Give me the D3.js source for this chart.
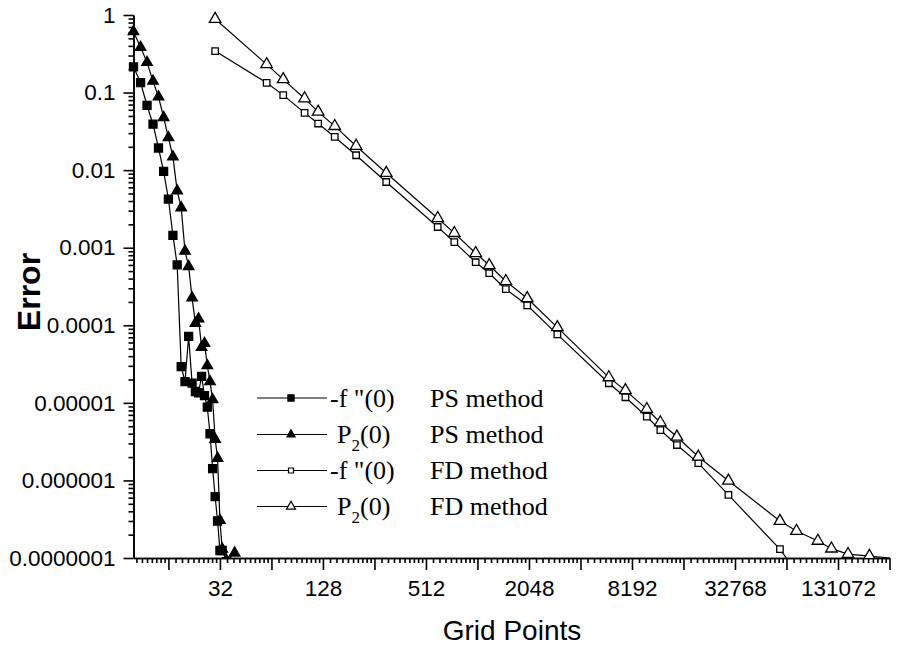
<!DOCTYPE html>
<html lang="en">
<head>
    <meta charset="UTF-8">
    <title>Error vs grid points</title>
    <script src="https://d3js.org/d3.v7.min.js"></script>
    <style>
        body { margin: 0; background: #fff; }
        #chart text { fill: #000; }
        .axis path, .axis line { stroke: #000; stroke-width: 1.6; }
        .axis text { font-family: "Liberation Sans", Arial, sans-serif; font-size: 22.5px; }
        .legend text { font-family: "Liberation Serif", "Times New Roman", serif; font-size: 26px; }
    </style>
</head>
<body>
    <svg id="chart" width="899" height="646"></svg>
    <script>
        // PS method (spectral), grid points N = 10 .. 
        const psGridF = [10, 11, 12, 13, 14, 15, 16, 17, 18, 19, 20, 21, 22, 23, 24, 25, 26, 27, 28, 29, 30, 31, 32, 33, 35];
        const psFpp = [0.215, 0.134, 0.0682, 0.0391, 0.0193, 0.00966, 0.00424, 0.00144, 0.0006, 2.93e-5,
            1.88e-5, 7.2e-5, 1.8e-5, 1.4e-5, 1.35e-5, 2.2e-5, 1.24e-5, 8.8e-6, 4.0e-6, 1.42e-6,
            6.2e-7, 3.0e-7, 1.25e-7, 1.25e-7, 9.0e-8];

        const psGridP = [10, 11, 12, 13, 14, 15, 16, 17, 18, 19, 20, 21, 22, 23, 24, 25, 26, 27, 28, 29, 30, 31, 32, 33, 35, 39];
        const psP2 = [0.61, 0.383, 0.245, 0.1406, 0.088, 0.0477, 0.0263, 0.0148, 0.0054, 0.00328,
            0.000904, 0.000573, 0.000226, 0.000106, 0.000121, 5.2e-5, 5.86e-5, 3.02e-5, 1.88e-5, 1.1e-5,
            3.4e-6, 1.93e-6, 3.05e-7, 1.3e-7, 9.3e-8, 1.16e-7];

        // FD method
        const fdGrid = [30, 60, 75, 100, 120, 150, 200, 300, 600, 750, 1000, 1200, 1500, 2000, 3000,
            6000, 7500, 10000, 12000, 15000, 20000, 30000, 60000, 75000, 100000, 120000, 150000, 200000, 300000];
        const fdFpp = [0.343, 0.1336, 0.0927, 0.0547, 0.0399, 0.0268, 0.01556, 0.00703, 0.00185, 0.00118,
            0.00065, 0.000469, 0.000292, 0.000181, 7.65e-5, 1.79e-5, 1.18e-5, 6.63e-6, 4.46e-6, 2.86e-6,
            1.67e-6, 6.5e-7, 1.3e-7, 6.6e-8];
        const fdP2 = [0.888, 0.231, 0.148, 0.084, 0.0564, 0.0369, 0.0205, 0.00919, 0.0024, 0.00154,
            0.00085, 0.000594, 0.00037, 0.000223, 9.4e-5, 2.13e-5, 1.45e-5, 8.3e-6, 5.59e-6, 3.65e-6,
            2.02e-6, 9.9e-7, 3.0e-7, 2.23e-7, 1.66e-7, 1.32e-7, 1.12e-7, 1.06e-7, 9.7e-8];

        const xTickValues = [16, 32, 64, 128, 256, 512, 1024, 2048, 4096, 8192, 16384, 32768, 65536, 131072, 262144];
        const xTickLabels = ['32', '128', '512', '2048', '8192', '32768', '131072'];
        const yTickValues = [1, 0.1, 0.01, 0.001, 0.0001, 0.00001, 0.000001, 0.0000001];
        const yTickLabels = ['1', '0.1', '0.01', '0.001', '0.0001', '0.00001', '0.000001', '0.0000001'];

        const legendLabels = ['-f "(0)', 'P2(0)', '-f "(0)', 'P2(0)'];
        const legendMethods = ['PS method', 'PS method', 'FD method', 'FD method'];

        const svg = d3.select('#chart');

        const x = d3.scaleLog().base(2).domain([10, 262144]).range([133.5, 889.5]);
        const y = d3.scaleLog().domain([1e-7, 1]).range([558, 15]);

        // minor ticks
        const xMinor = [];
        [8, ...xTickValues].forEach(p => {
            for (let i = 1; i < 10; i++) {
                const v = p * (1 + i / 10);
                if (v >= 10 && v <= 262144) xMinor.push(v);
            }
        });
        const yMinor = [];
        for (let e = -7; e < 0; e++) {
            for (let k = 2; k < 10; k++) yMinor.push(k * Math.pow(10, e));
        }

        svg.append('g').attr('class', 'axis')
            .attr('transform', 'translate(0,558)')
            .call(d3.axisBottom(x).tickValues(xMinor).tickSize(5).tickSizeOuter(0).tickFormat(''));
        svg.append('g').attr('class', 'axis')
            .attr('transform', 'translate(0,558)')
            .call(d3.axisBottom(x).tickValues(xTickValues).tickSize(12).tickSizeOuter(0).tickPadding(10)
                .tickFormat(d => {
                    const i = xTickLabels.indexOf(String(d));
                    return i >= 0 ? xTickLabels[i] : '';
                }));

        svg.append('g').attr('class', 'axis')
            .attr('transform', 'translate(133.5,0)')
            .call(d3.axisLeft(y).tickValues(yMinor).tickSize(5).tickSizeOuter(0).tickFormat(''));
        svg.append('g').attr('class', 'axis')
            .attr('transform', 'translate(133.5,0)')
            .call(d3.axisLeft(y).tickValues(yTickValues).tickSize(10).tickSizeOuter(0).tickPadding(8)
                .tickFormat((d, i) => yTickLabels[i]));
        svg.selectAll('.axis .domain').attr('stroke-width', 2);

        svg.append('defs').append('clipPath').attr('id', 'plot')
            .append('rect').attr('x', 100).attr('y', 0).attr('width', 790).attr('height', 558);

        const line = d3.line().x(d => x(d[0])).y(d => y(d[1]));
        const plot = svg.append('g').attr('clip-path', 'url(#plot)');

        const series = [
            { grid: psGridF, vals: psFpp, shape: d3.symbolSquare, size: 64, fill: '#000' },
            { grid: psGridP, vals: psP2, shape: d3.symbolTriangle, size: 48, fill: '#000' },
            { grid: fdGrid, vals: fdFpp, shape: d3.symbolSquare, size: 42, fill: '#fff' },
            { grid: fdGrid, vals: fdP2, shape: d3.symbolTriangle, size: 58, fill: '#fff' }
        ];

        series.forEach(s => {
            const pts = s.vals.map((v, i) => [s.grid[i], v]);
            plot.append('path').datum(pts)
                .attr('d', line)
                .attr('fill', 'none')
                .attr('stroke', '#000')
                .attr('stroke-width', 1.2);
            plot.selectAll(null).data(pts).enter().append('path')
                .attr('transform', d => `translate(${x(d[0])},${y(d[1])})`)
                .attr('d', d3.symbol().type(s.shape).size(s.size))
                .attr('fill', s.fill)
                .attr('stroke', '#000')
                .attr('stroke-width', 1.3);
        });

        // legend
        const rowY = [398, 434.5, 470.5, 506.5];
        const legend = svg.append('g').attr('class', 'legend');
        series.forEach((s, i) => {
            const g = legend.append('g').attr('transform', `translate(0,${rowY[i]})`);
            g.append('line').attr('x1', 257).attr('x2', 327).attr('y1', 0).attr('y2', 0)
                .attr('stroke', '#000').attr('stroke-width', 1.2);
            g.append('path').attr('transform', 'translate(291,0)')
                .attr('d', d3.symbol().type(s.shape).size(s.size * 0.6))
                .attr('fill', s.fill).attr('stroke', '#000').attr('stroke-width', 1.2);
            const t = g.append('text').attr('y', 8.5);
            if (legendLabels[i].startsWith('P')) {
                t.attr('x', 337);
                t.append('tspan').text('P');
                t.append('tspan').attr('dy', 8).attr('font-size', '17px').text('2');
                t.append('tspan').attr('dy', -8).text('(0)');
            } else {
                t.attr('x', 330).text(legendLabels[i]);
            }
            g.append('text').attr('x', 430).attr('y', 8.5).text(legendMethods[i]);
        });

        svg.append('text')
            .attr('transform', 'translate(40,292) rotate(-90)')
            .attr('text-anchor', 'middle')
            .style('font-family', '"Liberation Sans", Arial, sans-serif')
            .style('font-size', '32px')
            .style('font-weight', 'bold')
            .text('Error');

        svg.append('text')
            .attr('x', 512).attr('y', 640)
            .attr('text-anchor', 'middle')
            .style('font-family', '"Liberation Sans", Arial, sans-serif')
            .style('font-size', '28px')
            .text('Grid Points');
    </script>
</body>
</html>
